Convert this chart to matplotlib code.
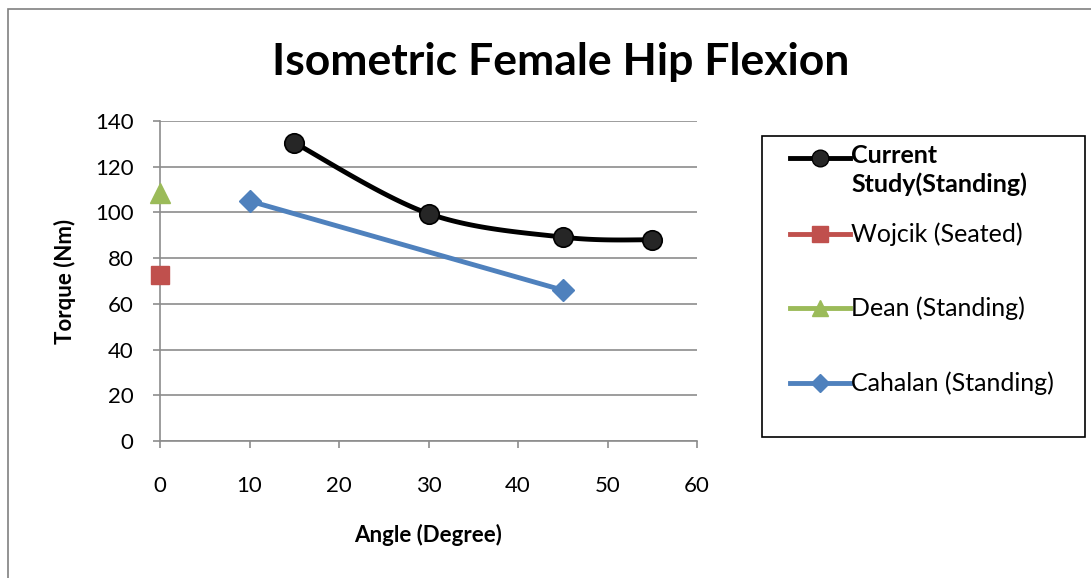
import numpy as np
import matplotlib.pyplot as plt
from matplotlib.lines import Line2D
from matplotlib.patches import Rectangle

# Data
current_x = [15, 30, 45, 55]
current_y = [130.5, 99.5, 89.2, 88.0]
wojcik_x = [0]
wojcik_y = [72.8]
dean_x = [0]
dean_y = [108.5]
cahalan_x = [10, 45]
cahalan_y = [105.0, 66.0]

labels = ["Current\nStudy(Standing)", "Wojcik (Seated)", "Dean (Standing)", "Cahalan (Standing)"]

W, H = 1091, 578


def smooth(xs, ys, n=40):
    # Bezier smoothing like spreadsheet "smoothed line"
    p = np.column_stack([xs, ys]).astype(float)
    out = []
    for i in range(len(p) - 1):
        p0 = p[i - 1] if i > 0 else p[i]
        p1 = p[i]
        p2 = p[i + 1]
        p3 = p[i + 2] if i + 2 < len(p) else p[i + 1]
        c1 = p1 + (p2 - p0) / 6
        c2 = p2 - (p3 - p1) / 6
        t = np.linspace(0, 1, n)[:, None]
        seg = (1 - t) ** 3 * p1 + 3 * (1 - t) ** 2 * t * c1 + 3 * (1 - t) * t ** 2 * c2 + t ** 3 * p2
        out.append(seg)
    s = np.vstack(out)
    return s[:, 0], s[:, 1]


def fx(px):
    return px / W


def fy(py):
    return 1 - py / H


plt.rcParams['font.family'] = ['Lato', 'DejaVu Sans']

fig = plt.figure(figsize=(W / 100, H / 100), dpi=100)
fig.patches.append(Rectangle((fx(8), -0.1), 1.2, 1.1 - 9 / H, transform=fig.transFigure,
                             fill=False, edgecolor='#808080', linewidth=1.2))

ax = fig.add_axes([fx(160), fy(441), 537 / W, 320 / H])

blk = '#000000'
red = '#C0504D'
grn = '#9BBB59'
blu = '#4F81BD'

sx, sy = smooth(current_x, current_y)
ax.plot(sx, sy, color=blk, lw=3.5, zorder=3)
ax.plot(current_x, current_y, ls='none', marker='o', ms=14, mfc='#262626', mec=blk, mew=1.2, zorder=4)
ax.plot(wojcik_x, wojcik_y, ls='none', marker='s', ms=13, color=red, clip_on=False, zorder=4)
ax.plot(dean_x, dean_y, ls='none', marker='^', ms=14, color=grn, clip_on=False, zorder=4)
ax.plot(cahalan_x, cahalan_y, color=blu, lw=3.5, marker='D', ms=11, clip_on=False, zorder=3)

ax.set_xlim(0, 60)
ax.set_ylim(0, 140)
ax.set_xticks(range(0, 61, 10))
ax.set_yticks(range(0, 141, 20))
ax.yaxis.grid(True, color='#8c8c8c', lw=1.2)
ax.set_axisbelow(True)
for s in ['top', 'right']:
    ax.spines[s].set_visible(False)
for s in ['left', 'bottom']:
    ax.spines[s].set_color('#8c8c8c')
    ax.spines[s].set_linewidth(1.2)
ax.tick_params(axis='both', colors='#8c8c8c', length=5, width=1.2, labelcolor='black', labelsize=16)
ax.tick_params(axis='x', pad=20)
ax.tick_params(axis='y', pad=14)

ax.set_xlabel("Angle (Degree)", fontsize=16, fontweight='bold', labelpad=20)
ax.set_ylabel("Torque (Nm)", fontsize=16, fontweight='bold', labelpad=14)

fig.text(fx(561), fy(62), "Isometric Female Hip Flexion", ha='center', va='center',
         fontsize=32, fontweight='bold')

# legend, laid out like the spreadsheet one
fig.patches.append(Rectangle((fx(762), fy(437)), (1085 - 762) / W, (437 - 136) / H,
                             transform=fig.transFigure, fill=False, edgecolor='black', linewidth=1.2))
handles = [
    dict(color=blk, marker='o', ms=12, mfc='#262626', mec=blk),
    dict(color=red, marker='s', ms=11),
    dict(color=grn, marker='^', ms=11),
    dict(color=blu, marker='D', ms=9),
]
rows = [158, 234, 308, 383]
for h, lab, r in zip(handles, labels, rows):
    fig.add_artist(Line2D([fx(790), fx(820), fx(850)], [fy(r)] * 3, lw=3.5, markevery=[1],
                          transform=fig.transFigure, **h))
    if lab.startswith("Current"):
        fig.text(fx(851), fy(r - 14), lab, ha='left', va='top',
                 fontsize=18, fontweight='bold', linespacing=1.3)
    else:
        fig.text(fx(851), fy(r), lab, ha='left', va='center', fontsize=18)

fig.savefig("out.png", dpi=100)
